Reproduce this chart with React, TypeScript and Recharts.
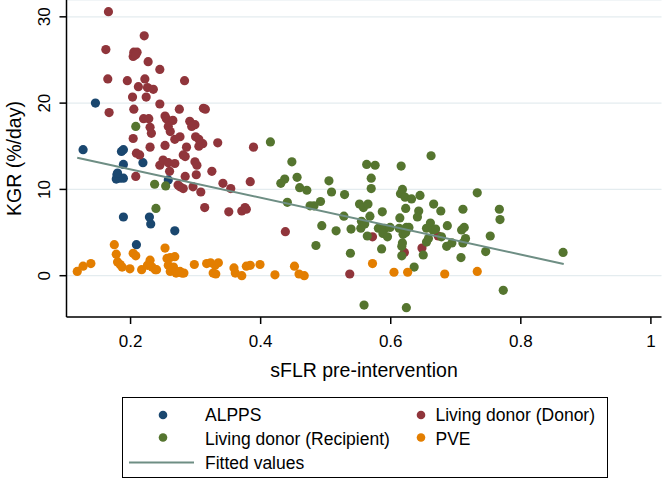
import { ScatterChart, Scatter, XAxis, YAxis, CartesianGrid } from "recharts";

// values: [sFLR, KGR]
const ALPPS: [number, number][] = [
  [0.146, 20.0], [0.127, 14.6], [0.186, 14.4], [0.189, 14.6], [0.189, 12.9],
  [0.219, 13.1], [0.179, 11.7], [0.184, 11.3], [0.178, 11.2], [0.189, 11.3],
  [0.18, 11.9], [0.258, 11.1], [0.189, 6.8], [0.229, 6.8], [0.231, 6.0],
  [0.268, 5.2], [0.209, 3.6],
];

const DONOR: [number, number][] = [
  [0.166, 30.6], [0.221, 27.8], [0.162, 26.2], [0.205, 25.9], [0.21, 25.9],
  [0.204, 25.4], [0.208, 25.6], [0.227, 24.8], [0.245, 23.9], [0.165, 22.8],
  [0.195, 22.6], [0.222, 22.8], [0.283, 22.6], [0.212, 21.9], [0.226, 21.8],
  [0.235, 21.6], [0.203, 20.7], [0.224, 20.7], [0.245, 19.9], [0.167, 18.9],
  [0.205, 19.3], [0.275, 19.3], [0.312, 19.4], [0.315, 19.3], [0.22, 18.2],
  [0.228, 18.2], [0.253, 18.5], [0.255, 18.2], [0.265, 18.0], [0.291, 17.9],
  [0.299, 17.5], [0.294, 17.3], [0.23, 17.2], [0.232, 16.5], [0.389, 14.9],
  [0.334, 15.4], [0.311, 15.3], [0.305, 15.0], [0.3, 16.1], [0.305, 15.8],
  [0.276, 16.1], [0.268, 15.8], [0.286, 14.9], [0.253, 15.1], [0.23, 14.9],
  [0.204, 15.9], [0.261, 16.7], [0.258, 17.3], [0.209, 14.2], [0.214, 14.0],
  [0.245, 12.8], [0.25, 13.4], [0.258, 13.1], [0.268, 13.0], [0.26, 12.1],
  [0.299, 13.2], [0.302, 12.8], [0.281, 14.0], [0.284, 13.8], [0.208, 11.5],
  [0.284, 11.5], [0.301, 11.7], [0.325, 12.1], [0.273, 10.5], [0.281, 10.1],
  [0.276, 10.3], [0.296, 10.3], [0.308, 9.7], [0.342, 10.7], [0.354, 10.1],
  [0.384, 10.9], [0.314, 7.9], [0.351, 7.4], [0.371, 7.5], [0.378, 7.7],
  [0.376, 7.9], [0.438, 5.1], [0.572, 4.5], [0.621, 2.7], [0.648, 3.2],
  [0.537, 0.2], [0.673, 4.6],
];

const RECIPIENT: [number, number][] = [
  [0.208, 17.3], [0.237, 10.6], [0.254, 10.4], [0.239, 7.8], [0.415, 15.5],
  [0.448, 13.2], [0.437, 11.2], [0.431, 10.7], [0.456, 11.4], [0.46, 10.2],
  [0.471, 9.9], [0.505, 11.0], [0.509, 9.7], [0.441, 8.5], [0.476, 8.1],
  [0.482, 8.1], [0.492, 8.6], [0.529, 9.4], [0.494, 5.8], [0.516, 5.2],
  [0.485, 3.5], [0.528, 6.9], [0.539, 5.4], [0.538, 2.6], [0.563, 12.9],
  [0.576, 12.8], [0.57, 11.3], [0.57, 10.1], [0.552, 8.3], [0.558, 7.9],
  [0.565, 8.3], [0.568, 6.9], [0.555, 6.3], [0.554, 5.5], [0.56, 6.0],
  [0.587, 7.4], [0.581, 5.5], [0.591, 5.5], [0.588, 4.9], [0.595, 4.5],
  [0.599, 5.6], [0.564, 4.6], [0.586, 3.1], [0.616, 12.7], [0.662, 13.9],
  [0.615, 9.5], [0.618, 10.0], [0.622, 9.1], [0.632, 8.9], [0.645, 9.3],
  [0.623, 7.8], [0.614, 6.7], [0.643, 7.5], [0.641, 6.8], [0.666, 8.3],
  [0.677, 7.5], [0.613, 5.5], [0.624, 5.6], [0.628, 5.6], [0.619, 4.8],
  [0.623, 5.0], [0.618, 3.8], [0.617, 2.3], [0.655, 5.5], [0.661, 6.1],
  [0.665, 5.3], [0.669, 5.4], [0.655, 3.9], [0.658, 4.3], [0.65, 2.4],
  [0.636, 1.0], [0.687, 5.8], [0.686, 3.4], [0.559, -3.4], [0.624, -3.7],
  [0.733, 9.6], [0.711, 7.7], [0.767, 7.7], [0.768, 6.5], [0.709, 5.3],
  [0.713, 5.6], [0.678, 4.5], [0.715, 4.3], [0.694, 3.8], [0.711, 3.8],
  [0.753, 4.6], [0.708, 2.1], [0.746, 2.8], [0.865, 2.7], [0.773, -1.7],
  [0.617, 3.4],
];

const PVE: [number, number][] = [
  [0.118, 0.5], [0.127, 1.1], [0.139, 1.4], [0.175, 3.6], [0.178, 2.5],
  [0.18, 1.6], [0.184, 1.3], [0.187, 1.0], [0.199, 0.8], [0.204, 2.6],
  [0.208, 2.3], [0.217, 0.7], [0.23, 1.8], [0.226, 1.2], [0.233, 1.0],
  [0.238, 0.7], [0.24, 0.7], [0.253, 3.2], [0.256, 2.0], [0.261, 2.1],
  [0.268, 2.2], [0.258, 1.2], [0.266, 1.0], [0.261, 0.5], [0.27, 0.3],
  [0.276, 0.5], [0.279, 0.3], [0.282, 0.3], [0.298, 1.3], [0.317, 1.4],
  [0.323, 1.5], [0.33, 1.2], [0.335, 1.5], [0.327, 0.3], [0.331, 0.2],
  [0.359, 0.9], [0.361, 0.3], [0.371, 0.0], [0.378, 1.1], [0.384, 1.2],
  [0.399, 1.3], [0.422, 0.1], [0.452, 1.1], [0.459, 0.2], [0.467, 0.0],
  [0.572, 1.4], [0.605, 0.4], [0.626, 0.4], [0.683, 0.2], [0.733, 0.5],
];

// fitted values line (ends of the regression line)
const FIT_X = [0.118, 0.866];
const FIT_Y = [13.67, 1.36];

const X_TICKS = [0.2, 0.4, 0.6, 0.8, 1];
const Y_TICKS = [0, 10, 20, 30];

const FONT = "'Liberation Sans', Arial, Helvetica, sans-serif";
const FIT_COLOR = "#6e8e84";

const SERIES = [
  { name: "ALPPS", color: "#1a476f", points: ALPPS },
  { name: "Living donor (Donor)", color: "#90353b", points: DONOR },
  { name: "Living donor (Recipient)", color: "#55752f", points: RECIPIENT },
  { name: "PVE", color: "#e37e00", points: PVE },
];

const toData = (pts: [number, number][]) => pts.map(([x, y]) => ({ x, y }));
const fitData = FIT_X.map((x, i) => ({ x, y: FIT_Y[i] }));

function YTick({ x, y, payload }: any) {
  return (
    <text
      x={x}
      y={y}
      transform={`rotate(-90 ${x} ${y})`}
      textAnchor="middle"
      fontSize={17}
      fontFamily={FONT}
      fill="#000"
    >
      {payload.value}
    </text>
  );
}

function Legend() {
  const [alpps, donor, recip, pve] = SERIES;
  const item = (s: typeof alpps, dx: number, tx: number, cy: number, by: number) => (
    <g key={s.name}>
      <circle cx={dx} cy={cy} r={4.3} fill={s.color} />
      <text x={tx} y={by} fontSize={17.5} fontFamily={FONT} fill="#000">
        {s.name}
      </text>
    </g>
  );
  return (
    <svg
      width={486}
      height={81}
      style={{ position: "absolute", left: 122, top: 397 }}
    >
      <rect x={0.5} y={0.5} width={485} height={80} fill="#fff" stroke="#000" strokeWidth={1} />
      {item(alpps, 41, 83, 18, 24)}
      {item(donor, 299, 313.5, 18, 24)}
      {item(recip, 41, 83, 40.5, 48)}
      {item(pve, 299, 313.5, 40.5, 48)}
      <line x1={7} x2={72} y1={65.5} y2={65.5} stroke={FIT_COLOR} strokeWidth={2} />
      <text x={83} y={71.5} fontSize={17.5} fontFamily={FONT} fill="#000">
        Fitted values
      </text>
    </svg>
  );
}

export default function App() {
  return (
    <div
      style={{
        position: "absolute",
        left: 0,
        top: 0,
        width: 664,
        height: 478,
        background: "#fff",
      }}
    >
      <ScatterChart
        width={664}
        height={478}
        margin={{ top: 0, right: 2.5, bottom: 95, left: 5 }}
      >
        <CartesianGrid horizontal vertical={false} stroke="#e4ecef" strokeWidth={1.2} />
        <XAxis
          type="number"
          dataKey="x"
          domain={[0.1015, 1.0163]}
          ticks={X_TICKS}
          height={66}
          tickSize={7}
          tickMargin={11}
          axisLine={{ stroke: "#000", strokeWidth: 1.5 }}
          tickLine={{ stroke: "#000", strokeWidth: 1.5 }}
          tick={{ fontSize: 17, fill: "#000", fontFamily: FONT }}
          label={{
            value: "sFLR pre-intervention",
            position: "insideBottom",
            offset: 6,
            fontSize: 19.5,
            fill: "#000",
            fontFamily: FONT,
          }}
        />
        <YAxis
          type="number"
          dataKey="y"
          domain={[-4.786, 31.95]}
          ticks={Y_TICKS}
          width={61.5}
          tickSize={7}
          tickMargin={9}
          axisLine={{ stroke: "#000", strokeWidth: 1.5 }}
          tickLine={{ stroke: "#000", strokeWidth: 1.5 }}
          tick={<YTick />}
          label={{
            value: "KGR (%/day)",
            angle: -90,
            position: "insideLeft",
            offset: 8.7,
            fontSize: 19.5,
            fill: "#000",
            fontFamily: FONT,
            style: { textAnchor: "middle" },
          }}
        />
        {SERIES.map((s) => (
          <Scatter
            key={s.name}
            name={s.name}
            data={toData(s.points)}
            fill={s.color}
            isAnimationActive={false}
            shape={(p: any) => <circle cx={p.cx} cy={p.cy} r={4.6} fill={s.color} />}
          />
        ))}
        <Scatter
          name="Fitted values"
          data={fitData}
          line={{ stroke: FIT_COLOR, strokeWidth: 2 }}
          shape={() => <g />}
          legendType="none"
          isAnimationActive={false}
        />
      </ScatterChart>
      <Legend />
    </div>
  );
}
